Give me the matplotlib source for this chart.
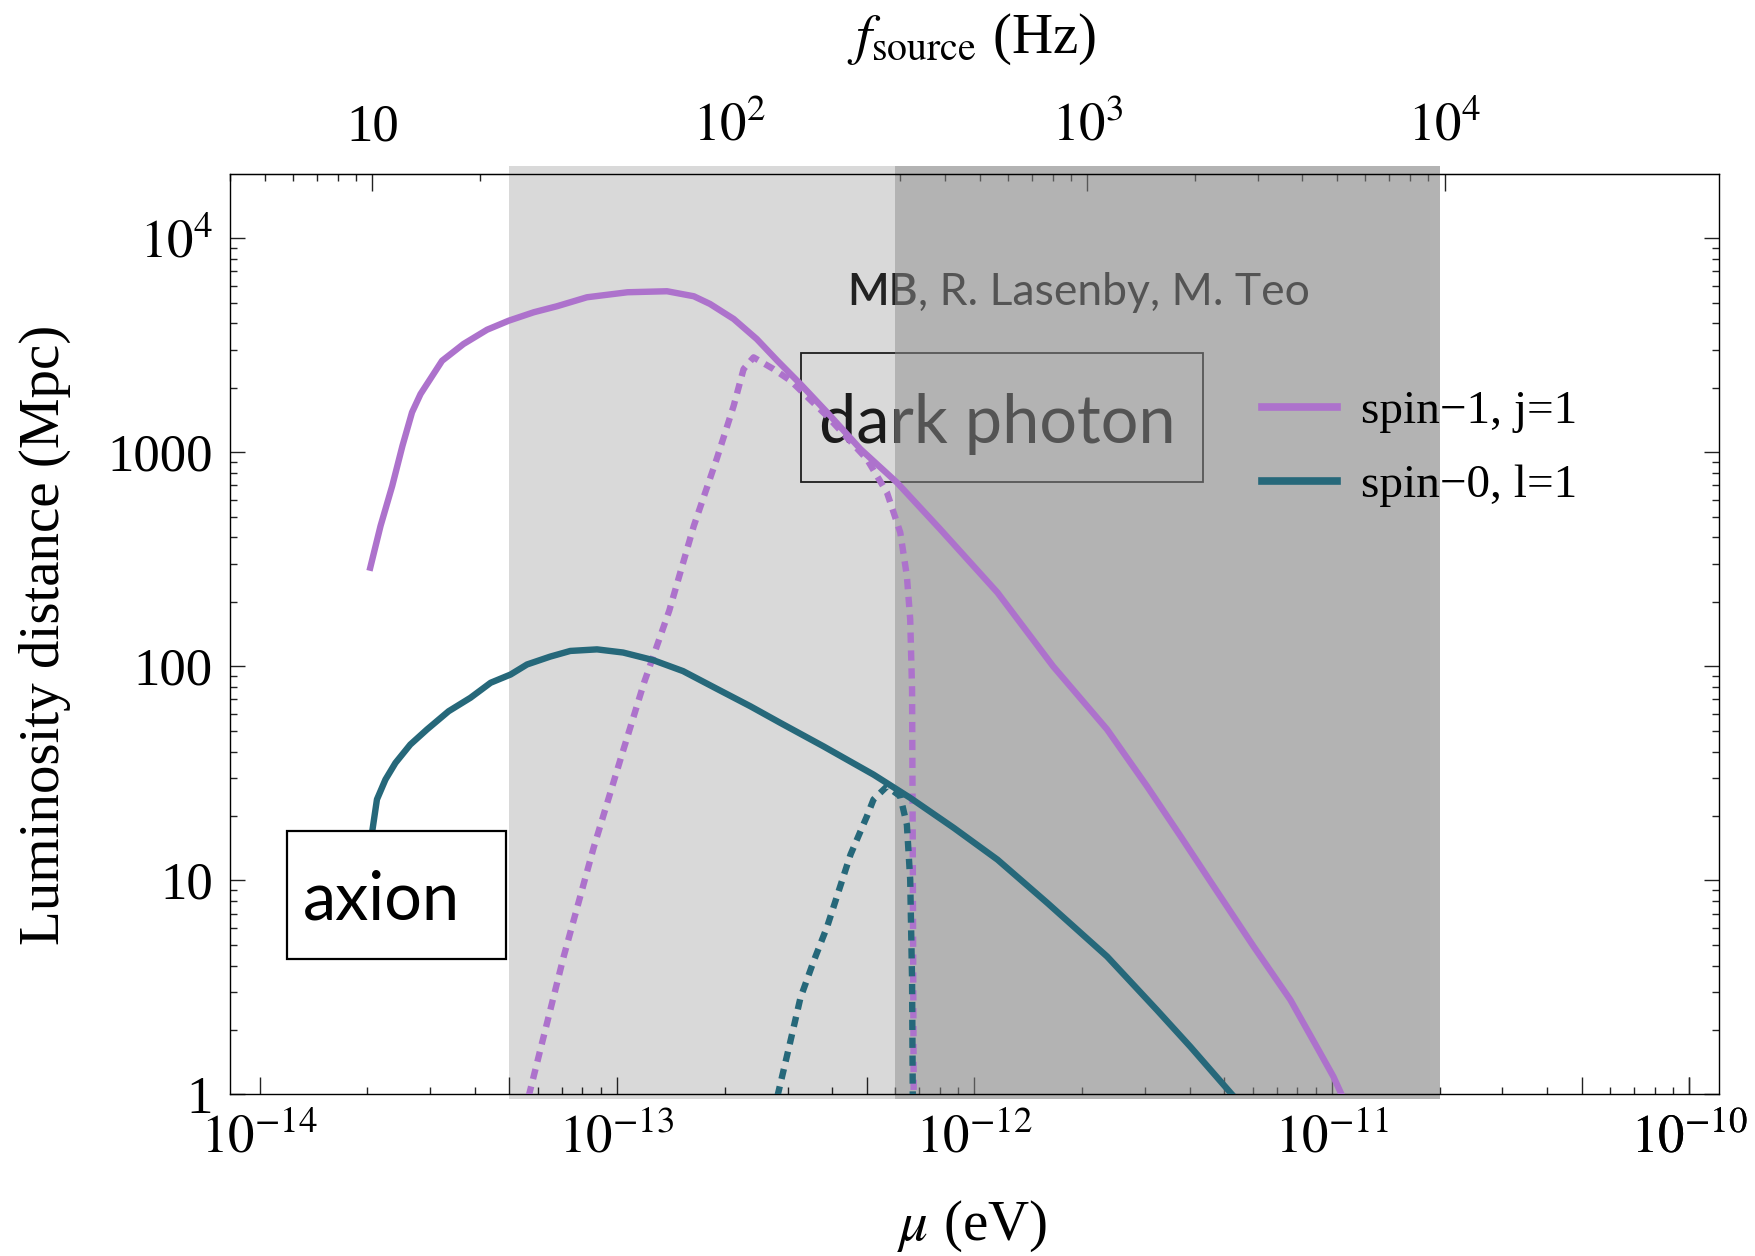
import matplotlib
matplotlib.use("Agg")
import matplotlib.pyplot as plt
import numpy as np
from matplotlib.patches import Rectangle
from matplotlib.ticker import FixedLocator, FixedFormatter, FuncFormatter, NullFormatter

# spin-1 (dark photon), j=1 : boson mass mu [eV] vs luminosity distance [Mpc]
spin1_mu = [2.04e-14, 2.18e-14, 2.35e-14, 2.51e-14, 2.67e-14, 2.82e-14, 3.24e-14,
            3.72e-14, 4.33e-14, 4.98e-14, 5.85e-14, 6.79e-14, 8.24e-14, 1.07e-13,
            1.38e-13, 1.64e-13, 1.82e-13, 2.12e-13, 2.46e-13, 2.81e-13, 3.26e-13,
            3.87e-13, 4.80e-13, 6.07e-13, 8.02e-13, 1.16e-12, 1.66e-12, 2.35e-12,
            3.04e-12, 3.77e-12, 4.67e-12, 6.04e-12, 7.65e-12, 9.07e-12, 1.01e-11,
            1.07e-11]
spin1_D = [289, 453, 696, 1071, 1536, 1870, 2675, 3204, 3736, 4118, 4508, 4808,
           5296, 5590, 5651, 5354, 4930, 4194, 3380, 2675, 2082, 1536, 1034, 722,
           437, 221, 100, 50.7, 27.5, 16.1, 9.37, 4.91, 2.77, 1.67, 1.21, 0.98]

# spin-1 dashed curve
spin1_dash_mu = [5.66e-14, 7.09e-14, 8.60e-14, 1.03e-13, 1.19e-13, 1.40e-13, 1.64e-13,
                 1.90e-13, 2.12e-13, 2.26e-13, 2.41e-13, 2.74e-13, 3.06e-13, 3.87e-13,
                 5.00e-13, 5.69e-13, 6.20e-13, 6.47e-13, 6.61e-13, 6.69e-13, 6.72e-13,
                 6.76e-13]
spin1_dash_D = [0.98, 4.40, 14.2, 38.3, 83.8, 182, 453, 929, 1648, 2447, 2775, 2447,
                2158, 1475, 929, 649, 422, 264, 166, 78, 13.9, 0.98]

# spin-0 (axion), l=1
spin0_mu = [2.07e-14, 2.13e-14, 2.25e-14, 2.40e-14, 2.64e-14, 2.94e-14, 3.38e-14,
            3.89e-14, 4.43e-14, 5.04e-14, 5.60e-14, 6.50e-14, 7.40e-14, 8.79e-14,
            1.04e-13, 1.26e-13, 1.53e-13, 1.90e-13, 2.36e-13, 2.86e-13, 3.78e-13,
            5.22e-13, 6.61e-13, 8.75e-13, 1.16e-12, 1.60e-12, 2.35e-12, 3.24e-12,
            4.02e-12, 5.31e-12]
spin0_D = [17.3, 23.9, 29.6, 35.4, 43.1, 50.7, 61.7, 71.3, 83.8, 91.6, 102, 111,
           118, 120, 116, 107, 95.0, 78.6, 65.1, 54.5, 42.3, 31.2, 24.3, 17.6, 12.5,
           7.84, 4.41, 2.48, 1.67, 0.98]

# spin-0 dashed curve
spin0_dash_mu = [2.81e-13, 3.05e-13, 3.26e-13, 3.55e-13, 3.87e-13, 4.50e-13, 5.00e-13,
                 5.22e-13, 5.69e-13, 6.20e-13, 6.47e-13, 6.61e-13, 6.69e-13, 6.72e-13]
spin0_dash_D = [0.98, 1.75, 2.83, 4.2, 6.07, 13.2, 19.9, 23.9, 27.5, 24.7, 18.2, 10.1,
                3.43, 0.98]

# shaded bands (eV)
light_band = (5.0e-14, 6.0e-13)
dark_band = (6.0e-13, 2.0e-11)

y_ticks = [1, 10, 100, 1000, 1e4]
y_ticklabels = ["1", "10", "100", "1000", r"$10^4$"]
f_ticks = [10, 100, 1000, 1e4]
f_ticklabels = ["10", r"$10^2$", r"$10^3$", r"$10^4$"]

H_EV_S = 4.135667e-15  # Planck constant, eV s


def mu_to_f(mu):
    return 2 * np.asarray(mu) / H_EV_S


def f_to_mu(f):
    return np.asarray(f) * H_EV_S / 2


plt.rcParams["font.family"] = ["Liberation Serif", "DejaVu Serif"]
plt.rcParams["mathtext.fontset"] = "stix"

purple = "#ad72cc"
teal = "#26687a"

fig = plt.figure(figsize=(17.55, 12.56), dpi=100)
ax = fig.add_axes([0.1308, 0.1286, 0.8487, 0.7329])
ax.set_xscale("log")
ax.set_yscale("log")
ax.set_xlim(10 ** -14.084, 10 ** -9.917)
ax.set_ylim(1, 10 ** 4.30)

ax.axvspan(*light_band, ymin=-0.005, ymax=1.009, color="#d9d9d9", lw=0,
           zorder=0.5, clip_on=False)
ax.axvspan(*dark_band, ymin=-0.005, ymax=1.009, color="#7e7e7e", alpha=0.59, lw=0,
           zorder=2, clip_on=False)

ax.plot(spin1_dash_mu, spin1_dash_D, color=purple, lw=4.6, dashes=(1.6, 1.2), zorder=3)
ax.plot(spin0_dash_mu, spin0_dash_D, color=teal, lw=4.6, dashes=(1.6, 1.2), zorder=3.1)
l1, = ax.plot(spin1_mu, spin1_D, color=purple, lw=4.6, zorder=3.2,
              label="spin\u22121, j=1")
l2, = ax.plot(spin0_mu, spin0_D, color=teal, lw=4.6, zorder=3.3,
              label="spin\u22120, l=1")

leg = ax.legend(handles=[l1, l2], loc="center left", bbox_to_anchor=(0.6929, 0.7015),
                frameon=False, fontsize=34, handlelength=1.6, handletextpad=0.5,
                labelspacing=0.65, borderpad=0, borderaxespad=0)
for ln in leg.get_lines():
    ln.set_linewidth(5.5)

# bottom axis ticks (long at 1 and 5 per decade, short elsewhere)
x_major = [s * 10.0 ** e for e in range(-14, -9) for s in (1, 5)] + [1e-10]
x_minor = [s * 10.0 ** e for e in range(-14, -10) for s in (2, 3, 4, 6, 7, 8, 9)]
ax.xaxis.set_major_locator(FixedLocator(x_major))
ax.xaxis.set_minor_locator(FixedLocator(x_minor))


def decade_fmt(v, pos):
    e = np.log10(v)
    if abs(e - round(e)) < 1e-6:
        return r"$10^{%d}$" % round(e)
    return ""


ax.xaxis.set_major_formatter(FuncFormatter(decade_fmt))
ax.xaxis.set_minor_formatter(NullFormatter())

ax.yaxis.set_major_locator(FixedLocator(y_ticks))
ax.yaxis.set_major_formatter(FixedFormatter(y_ticklabels))
ax.yaxis.set_minor_locator(FixedLocator(
    [s * 10.0 ** e for e in range(0, 5) for s in range(2, 10)]))
ax.yaxis.set_minor_formatter(NullFormatter())

ax.tick_params(axis="both", which="both", direction="in", top=False, right=True,
               labelsize=38, width=1.0, color="#222222")
ax.tick_params(axis="x", which="major", length=12.2, pad=14)
ax.tick_params(axis="x", which="minor", length=5)
ax.tick_params(axis="y", which="major", length=11, pad=12)
ax.tick_params(axis="y", which="minor", length=5)
for sp in ax.spines.values():
    sp.set_linewidth(1.0)

# top axis: source frequency
secax = ax.secondary_xaxis("top", functions=(mu_to_f, f_to_mu))
secax.xaxis.set_major_locator(FixedLocator(f_ticks))
secax.xaxis.set_major_formatter(FixedFormatter(f_ticklabels))
secax.xaxis.set_minor_locator(FixedLocator(
    [s * 10.0 ** e for e in range(0, 4) for s in range(2, 10)]))
secax.xaxis.set_minor_formatter(NullFormatter())
secax.tick_params(which="both", direction="in", labelsize=38, pad=16, width=1.0,
                  color="#222222")
secax.tick_params(which="major", length=12.2)
secax.tick_params(which="minor", length=5)

# annotations
ax.add_patch(Rectangle((0.3835, 0.6651), 0.2698, 0.1401, transform=ax.transAxes,
                       fill=False, ec="#1e1e1e", lw=1.3, zorder=1.5))
ax.text(0.5152, 0.7074, "dark photon", transform=ax.transAxes, ha="center",
        va="baseline", fontsize=48, family="Lato", fontweight="normal",
        color="#1a1a1a", zorder=1.5)

ax.add_patch(Rectangle((0.0388, 0.1469), 0.1466, 0.1397, transform=ax.transAxes,
                       fc="white", ec="black", lw=1.6, zorder=3.5))
ax.text(0.0495, 0.1896, "axion", transform=ax.transAxes, ha="left", va="baseline",
        fontsize=48, family="Lato", fontweight="normal", color="black", zorder=3.6)

t_mb = ax.text(0.4148, 0.858, "MB", transform=ax.transAxes, ha="left",
               va="baseline", fontsize=32, family="Lato", fontweight="semibold",
               color="#222222", zorder=1.5)
ax.annotate(", R. Lasenby, M. Teo", xy=(1, 0), xycoords=t_mb, ha="left",
            va="bottom", fontsize=32, family="Lato", fontweight="normal",
            color="#1a1a1a", zorder=1.5)

# axis labels
fig.text(0.5536, 0.0239, r"$\mu$ (eV)", ha="center", va="center", fontsize=41)
fig.text(0.0256, 0.4944, "Luminosity distance (Mpc)", rotation=90, ha="center",
         va="center", fontsize=41)
fig.text(0.5536, 0.969, r"$f_{\rm source}$ (Hz)", ha="center", va="center",
         fontsize=41)

fig.savefig("out.png", dpi=100)
